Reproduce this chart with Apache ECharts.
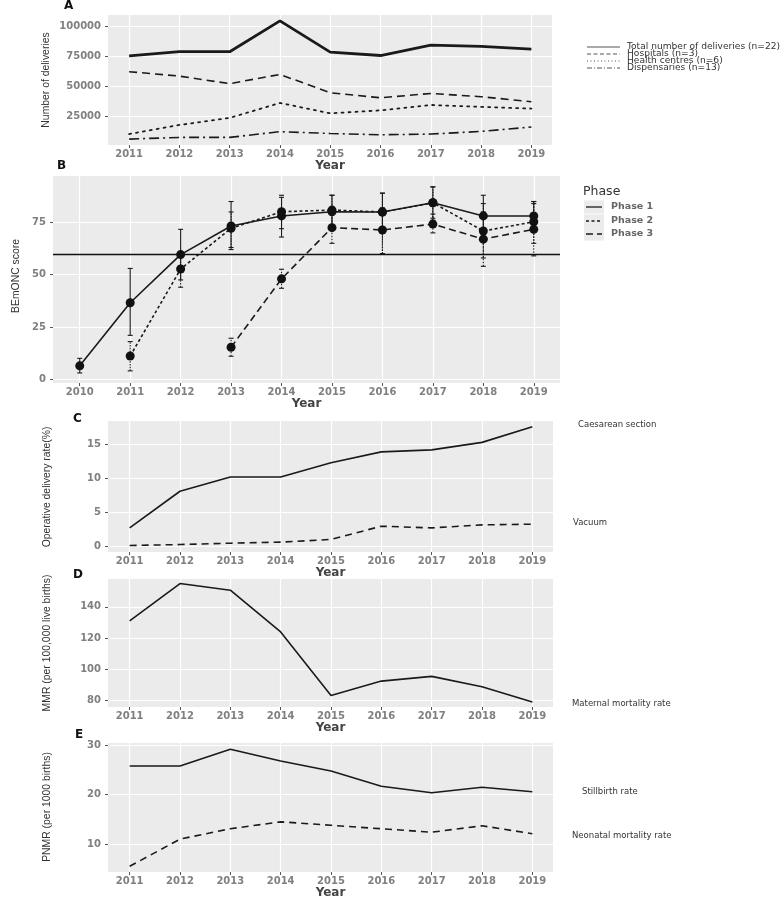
<!DOCTYPE html>
<html><head><meta charset="utf-8">
<script src="https://cdn.jsdelivr.net/npm/echarts@6/dist/echarts.min.js"></script>
<style>html,body{margin:0;padding:0;background:#fff}#c{width:784px;height:899px}</style>
</head><body><div id="c"></div>
<script>
// ---------- DATA ----------
const yearsA = [2011, 2012, 2013, 2014, 2015, 2016, 2017, 2018, 2019];
const totalDeliveries = [75500, 79000, 79000, 104700, 78600, 75800, 84500, 83400, 81100];
const hospitals = [62300, 58600, 52300, 60000, 44700, 40500, 44100, 41400, 37200];
const healthCentres = [10200, 17800, 23700, 36200, 27500, 30000, 34500, 32900, 31500];
const dispensaries = [6000, 7400, 7400, 12200, 10700, 9600, 10200, 12400, 16100];
const seriesNamesA = ['Total number of deliveries (n=22)', 'Hospitals (n=3)', 'Health centres (n=6)', 'Dispensaries (n=13)'];

const yearsB = [2010, 2011, 2012, 2013, 2014, 2015, 2016, 2017, 2018, 2019];
const phase1 = [6.4, 36.6, 59.6, 73.3, 78.1, 80.1, 80.0, 84.4, 78.1, 78.1];
const phase1Lo = [3, 21, 47.5, 62, 68, 72, 71, 77, 68, 72];
const phase1Hi = [10, 53, 71.7, 85, 87, 88, 89, 92, 88, 85];
const phase2 = [null, 11.1, 52.7, 72.2, 80.1, 80.9, 80.0, 84.4, 70.9, 75.3];
const phase2Lo = [null, 4, 44, 63, 72, 73, 60, 76, 58, 65];
const phase2Hi = [null, 18, 60, 80, 88, 88, 89, 92, 84, 85];
const phase3 = [null, null, null, 15.3, 48.0, 72.5, 71.4, 74.2, 67.0, 71.7];
const phase3Lo = [null, null, null, 11, 43.5, 65, 60, 70, 54, 59];
const phase3Hi = [null, null, null, 19.6, 52.6, 80, 82, 79, 80, 84];
const thresholdB = 60;
const phaseNames = ['Phase 1', 'Phase 2', 'Phase 3'];

const caesarean = [2.7, 8.1, 10.2, 10.2, 12.3, 13.9, 14.2, 15.3, 17.6];
const vacuum = [0.1, 0.25, 0.45, 0.6, 1.0, 2.95, 2.7, 3.15, 3.25];
const mmr = [131, 154.9, 150.6, 123.9, 83.2, 92.4, 95.4, 88.8, 79];
const stillbirth = [25.8, 25.8, 29.2, 26.8, 24.8, 21.7, 20.4, 21.5, 20.6];
const neonatal = [5.5, 11.0, 13.1, 14.5, 13.8, 13.1, 12.4, 13.7, 12.1];

const ticksA = [25000, 50000, 75000, 100000];
const ticksB = [0, 25, 50, 75];
const ticksC = [0, 5, 10, 15];
const ticksD = [80, 100, 120, 140];
const ticksE = [10, 20, 30];

// ---------- STYLE HELPERS ----------
const tickFont = {fontFamily: 'DejaVu Sans', fontWeight: 'bold', fontSize: 10, color: '#808080'};
const narrow = "'Liberation Sans', Arial, sans-serif";
const lblFont = "'DejaVu Sans', sans-serif";

function xAx(gi, min, max, ticks, gap) {
  return {
    type: 'value', gridIndex: gi, min: min, max: max,
    name: 'Year', nameLocation: 'middle', nameGap: gap,
    nameTextStyle: {fontFamily: 'DejaVu Sans', fontWeight: 'bold', fontSize: 12, color: '#444'},
    axisLine: {show: false, onZero: false},
    axisTick: {show: true, length: 3, lineStyle: {color: '#555'}, customValues: ticks},
    axisLabel: Object.assign({customValues: ticks, margin: 4, formatter: v => String(v)}, tickFont),
    splitLine: {show: true, lineStyle: {color: '#fff', width: 1.2}}
  };
}
function yAx(gi, min, max, ticks) {
  return {
    type: 'value', gridIndex: gi, min: min, max: max,
    axisLine: {show: false, onZero: false},
    axisTick: {show: true, length: 3, lineStyle: {color: '#555'}, customValues: ticks},
    axisLabel: Object.assign({customValues: ticks, margin: 7, formatter: v => String(v)}, tickFont),
    splitLine: {show: true, lineStyle: {color: '#fff', width: 1.2}}
  };
}
function pairs(xs, ys) { return xs.map((x, i) => [x, ys[i]]); }
function lineS(name, gi, xs, ys, dash, width, extra) {
  return Object.assign({
    name: name, type: 'line', xAxisIndex: gi, yAxisIndex: gi,
    data: pairs(xs, ys), symbol: 'none', silent: true, animation: false,
    lineStyle: {color: '#1a1a1a', width: width, type: dash, cap: 'butt'}
  }, extra || {});
}
function errS(lo, hi, dash, z) {
  return {
    type: 'custom', xAxisIndex: 1, yAxisIndex: 1, silent: true, animation: false, z: z,
    data: yearsB.map((y, i) => [y, lo[i], hi[i]]).filter(d => d[1] != null),
    encode: {x: 0, y: [1, 2]},
    renderItem: function (params, api) {
      const x = api.value(0), a = api.coord([x, api.value(1)]), b = api.coord([x, api.value(2)]);
      const w = 2.5;
      const st = {stroke: '#1a1a1a', lineWidth: 1.1, lineDash: dash};
      return {type: 'group', children: [
        {type: 'line', shape: {x1: a[0], y1: a[1], x2: b[0], y2: b[1]}, style: st},
        {type: 'line', shape: {x1: a[0] - w, y1: a[1], x2: a[0] + w, y2: a[1]}, style: {stroke: '#1a1a1a', lineWidth: 1.1}},
        {type: 'line', shape: {x1: b[0] - w, y1: b[1], x2: b[0] + w, y2: b[1]}, style: {stroke: '#1a1a1a', lineWidth: 1.1}}
      ]};
    }
  };
}
function ptLine(name, ys, dash, z, extra) {
  return Object.assign({
    name: name, type: 'line', xAxisIndex: 1, yAxisIndex: 1, z: z,
    data: pairs(yearsB, ys), connectNulls: false, silent: true, animation: false,
    symbol: 'circle', symbolSize: 9, showAllSymbol: true,
    itemStyle: {color: '#111'},
    lineStyle: {color: '#1a1a1a', width: 1.6, type: dash}
  }, extra || {});
}

const dashA = ['solid', [8, 5], [2, 5], [10, 4, 2, 4]];
const dashB = ['solid', [3, 2.5], [7, 4]];

// ---------- GRAPHICS (labels, legends) ----------
const g = [];
function txt(x, y, s, st, rot) {
  const e = {type: 'text', x: x, y: y, silent: true, style: Object.assign({text: s, verticalAlign: 'middle', align: 'left', fill: '#222'}, st)};
  if (rot) e.rotation = rot;
  g.push(e);
}
// panel letters
[['A', 64, 6], ['B', 57, 166], ['C', 73, 419], ['D', 73, 575], ['E', 75, 735]].forEach(p =>
  txt(p[1], p[2], p[0], {fontFamily: 'DejaVu Sans', fontWeight: 'bold', fontSize: 12, fill: '#111'}));
// y titles
const ytStyle = {fontFamily: narrow, fontSize: 10.4, fill: '#333', align: 'center'};
txt(46, 80, 'Number of deliveries', ytStyle, Math.PI / 2);
txt(16, 276, 'BEmONC score', ytStyle, Math.PI / 2);
txt(47, 487, 'Operative delivery rate(%)', ytStyle, Math.PI / 2);
txt(47, 643, 'MMR (per 100,000 live births)', ytStyle, Math.PI / 2);
txt(47, 807, 'PNMR (per 1000 births)', ytStyle, Math.PI / 2);
// legend A
const legYA = [47, 54, 61, 68];
seriesNamesA.forEach((n, i) => {
  g.push({type: 'line', silent: true, shape: {x1: 587, y1: legYA[i], x2: 620, y2: legYA[i]},
    style: {stroke: '#555', lineWidth: 1, lineDash: dashA[i] === 'solid' ? null : dashA[i].map(v => v * 0.5)}});
  txt(627, legYA[i], n, {fontFamily: lblFont, fontSize: 9.1, fill: '#333'});
});
// legend B
txt(583, 192, 'Phase', {fontFamily: 'DejaVu Sans', fontSize: 12.5, fill: '#333'});
const legYB = [207, 221, 234];
phaseNames.forEach((n, i) => {
  g.push({type: 'rect', silent: true, shape: {x: 584, y: legYB[i] - 6.6, width: 20, height: 13.2}, style: {fill: '#EBEBEB'}});
  g.push({type: 'line', silent: true, shape: {x1: 586, y1: legYB[i], x2: 602, y2: legYB[i]},
    style: {stroke: '#1a1a1a', lineWidth: 1.3, lineDash: dashB[i] === 'solid' ? null : dashB[i]}});
  txt(611, legYB[i], n, {fontFamily: 'DejaVu Sans', fontWeight: 'bold', fontSize: 9.5, fill: '#666'});
});
// direct labels
const dl = {fontFamily: lblFont, fontSize: 8.5, fill: '#333'};
txt(578, 425, 'Caesarean section', dl);
txt(573, 523, 'Vacuum', dl);
txt(572, 704, 'Maternal mortality rate', dl);
txt(582, 792, 'Stillbirth rate', dl);
txt(572, 836, 'Neonatal mortality rate', dl);

// ---------- OPTION ----------
const gridBase = {show: true, backgroundColor: '#EBEBEB', borderWidth: 0, containLabel: false, outerBoundsMode: 'none'};
const option = {
  backgroundColor: '#fff',
  animation: false,
  grid: [
    Object.assign({left: 108, top: 15, width: 444, height: 130}, gridBase),
    Object.assign({left: 53, top: 176, width: 507, height: 207}, gridBase),
    Object.assign({left: 108, top: 421, width: 445, height: 131}, gridBase),
    Object.assign({left: 108, top: 579, width: 445, height: 128}, gridBase),
    Object.assign({left: 108, top: 743, width: 445, height: 129}, gridBase)
  ],
  xAxis: [
    xAx(0, 2010.58, 2019.41, yearsA, 14),
    xAx(1, 2009.47, 2019.52, yearsB, 15),
    xAx(2, 2010.57, 2019.41, yearsA, 13),
    xAx(3, 2010.57, 2019.41, yearsA, 14),
    xAx(4, 2010.57, 2019.41, yearsA, 14)
  ],
  yAxis: [
    yAx(0, 1065, 109635, ticksA),
    yAx(1, -1.8, 97.2, ticksB),
    yAx(2, -0.85, 18.45, ticksC),
    yAx(3, 75.8, 157.8, ticksD),
    yAx(4, 4.35, 30.45, ticksE)
  ],
  graphic: g,
  series: [
    lineS(seriesNamesA[0], 0, yearsA, totalDeliveries, dashA[0], 2.8),
    lineS(seriesNamesA[1], 0, yearsA, hospitals, dashA[1], 1.6),
    lineS(seriesNamesA[2], 0, yearsA, healthCentres, dashA[2], 1.8, {lineStyle: {color: '#1a1a1a', width: 1.8, type: dashA[2], cap: 'round'}}),
    lineS(seriesNamesA[3], 0, yearsA, dispensaries, dashA[3], 1.6),

    errS(phase1Lo, phase1Hi, null, 3),
    errS(phase2Lo, phase2Hi, [1.5, 1.2], 3),
    errS(phase3Lo, phase3Hi, [1.5, 1.5], 3),
    ptLine(phaseNames[0], phase1, dashB[0], 4, {markLine: {silent: true, symbol: 'none', label: {show: false},
      lineStyle: {color: '#111', type: 'solid', width: 1.3}, data: [{yAxis: thresholdB}]}}),
    ptLine(phaseNames[1], phase2, dashB[1], 4),
    ptLine(phaseNames[2], phase3, dashB[2], 4),

    lineS('Caesarean section', 2, yearsA, caesarean, 'solid', 1.6),
    lineS('Vacuum', 2, yearsA, vacuum, [7, 5], 1.6),
    lineS('Maternal mortality rate', 3, yearsA, mmr, 'solid', 1.6),
    lineS('Stillbirth rate', 4, yearsA, stillbirth, 'solid', 1.6),
    lineS('Neonatal mortality rate', 4, yearsA, neonatal, [7, 5], 1.6)
  ]
};
echarts.init(document.getElementById('c'), null, {renderer: 'canvas'}).setOption(option);
</script></body></html>
